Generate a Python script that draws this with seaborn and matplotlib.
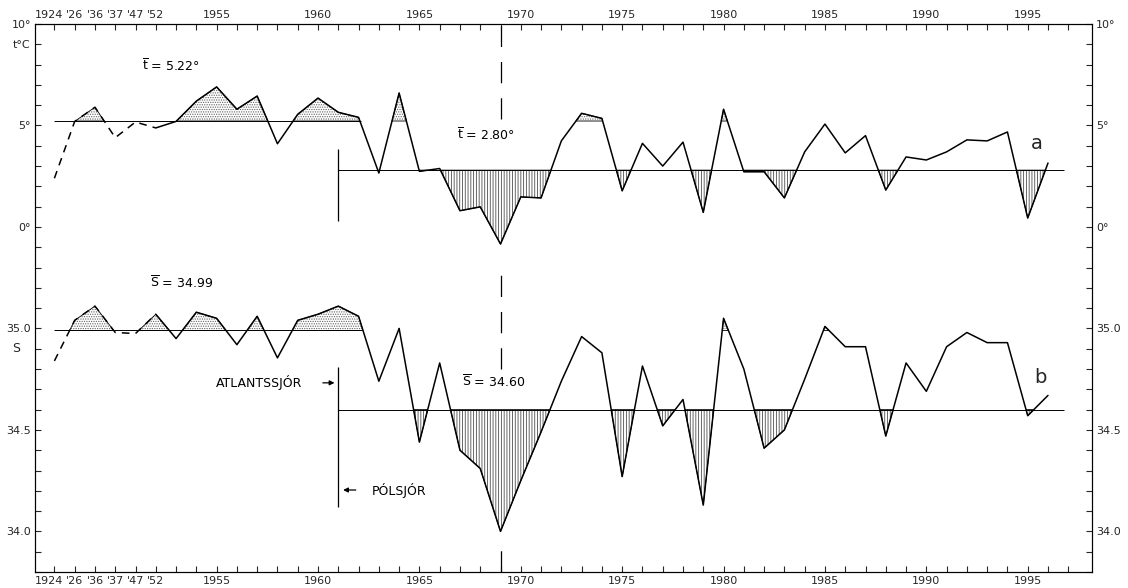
"""
Sea temperature (a) and salinity (b) anomalies, North Icelandic waters.
"""

import numpy as np
import matplotlib
matplotlib.use('Agg')
import matplotlib.pyplot as plt
import matplotlib.transforms as mtransforms
import seaborn as sns

# ---- data ----
years = ['1924', '1926', '1936', '1937', '1947', '1952'] + [str(y) for y in range(1953, 1997)]

temp = [2.4, 5.2, 5.9, 4.4, 5.17, 4.88, 5.2, 6.2, 6.9, 5.8,
        6.45, 4.1, 5.55, 6.35, 5.65, 5.4, 2.66, 6.6, 2.74, 2.88,
        0.8, 0.99, -0.84, 1.48, 1.43, 4.24, 5.6, 5.35, 1.78, 4.12,
        3.0, 4.18, 0.72, 5.8, 2.72, 2.72, 1.43, 3.7, 5.07, 3.65,
        4.5, 1.82, 3.45, 3.3, 3.7, 4.29, 4.24, 4.68, 0.44, 3.15]

sal = [34.84, 35.04, 35.11, 34.98, 34.975, 35.07, 34.95, 35.08, 35.05, 34.92,
       35.06, 34.855, 35.04, 35.07, 35.11, 35.06, 34.74, 35.0, 34.44, 34.83,
       34.40, 34.31, 34.00, 34.25, 34.49, 34.74, 34.96, 34.88, 34.27, 34.815,
       34.52, 34.65, 34.13, 35.05, 34.80, 34.41, 34.50, 34.75, 35.01, 34.91,
       34.91, 34.47, 34.83, 34.69, 34.91, 34.98, 34.93, 34.93, 34.57, 34.67]

temp_mean_early, temp_mean_late = 5.22, 2.80
sal_mean_early, sal_mean_late = 34.99, 34.60

xtick_text = {0: '1924', 1: "'26", 2: "'36", 3: "'37", 4: "'47", 5: "'52",
              8: '1955', 13: '1960', 18: '1965', 23: '1970', 28: '1975',
              33: '1980', 38: '1985', 43: '1990', 48: '1995'}
left_ytext = {10: '10°', 9: 't°C', 5: '5°', 0: '0°', -5: '35.0', -10: '34.5', -15: '34.0'}
right_ytext = {10: '10°', 5: '5°', 0: '0°', -5: '35.0', -10: '34.5', -15: '34.0'}


def to_panel(s):
    # salinity drawn on the same axis: 35.0 -> -5, 0.1 psu per unit
    return 10 * (np.asarray(s) - 35.0) - 5


sns.set_style('ticks')
plt.rcParams['font.family'] = ['DejaVu Sans']
plt.rcParams['hatch.linewidth'] = 0.6
plt.rcParams['mathtext.default'] = 'regular'

fig = plt.figure(figsize=(11.28, 5.88), dpi=100)
ax = fig.add_axes([35 / 1128, 16 / 588, 1057 / 1128, 548 / 588])

x = np.arange(len(years))
t = np.array(temp)
s = to_panel(sal)
t_early, t_late = temp_mean_early, temp_mean_late
s_early, s_late = to_panel(sal_mean_early), to_panel(sal_mean_late)
late = x >= 14


def shade(xx, yy, base, above, hatch, col):
    where = yy > base if above else yy < base
    ax.fill_between(xx, yy, base, where=where, interpolate=True,
                    facecolor='white', edgecolor=col, hatch=hatch, linewidth=0, zorder=1)
    ax.fill_between(xx, yy, base, where=where, interpolate=True,
                    facecolor='none', edgecolor='black', linewidth=0.6, zorder=2)


for yy, e, l in [(t, t_early, t_late), (s, s_early, s_late)]:
    shade(x, yy, e, True, '.......', '0.4')
    shade(x[late], yy[late], l, False, '||||||', '0.3')
    ax.hlines(e, 0, 15.1, color='black', lw=0.7, zorder=2)
    ax.hlines(l, 14, 49.8, color='black', lw=0.7, zorder=2)
    sns.lineplot(x=x[:6], y=yy[:6], ax=ax, color='black', lw=1.1,
                 linestyle=(0, (5, 4)), zorder=3)
    sns.lineplot(x=x[5:], y=yy[5:], ax=ax, color='black', lw=1.1, zorder=3)

# start of the second reference period
ax.vlines(14, 0.3, 3.85, color='black', lw=0.9)
ax.vlines(14, -13.8, -6.9, color='black', lw=0.9)

# dashed marker at 1969
for y0, y1 in [(5.3, 9.9), (-7.0, -1.7), (-17, -15.6)]:
    ax.vlines(22, y0, y1, color='black', lw=0.9, linestyles=(0, (17, 12)))

txt = dict(fontsize=9, color='black')
ax.text(4.3, 7.93, r'$\overline{t}$ = 5.22°', va='center', **txt)
ax.text(19.85, 4.53, r'$\overline{t}$ = 2.80°', va='center', **txt)
ax.text(4.7, -2.76, r'$\overline{S}$ = 34.99', va='center', **txt)
ax.text(20.1, -7.64, r'$\overline{S}$ = 34.60', va='center', **txt)
ax.text(48.45, 4.1, 'a', ha='center', va='center', fontsize=14)
ax.text(48.65, -7.44, 'b', ha='center', va='center', fontsize=14)

ax.text(12.2, -7.68, 'ATLANTSSJÓR', ha='right', va='center', **txt)
ax.annotate('', xy=(13.95, -7.68), xytext=(13.1, -7.68),
            arrowprops=dict(arrowstyle='-|>', color='black', lw=0.9, mutation_scale=7))
ax.text(15.66, -12.96, 'PÓLSJÓR', ha='left', va='center', **txt)
ax.annotate('', xy=(14.1, -12.96), xytext=(15.0, -12.96),
            arrowprops=dict(arrowstyle='-|>', color='black', lw=0.9, mutation_scale=7))
ax.text(-1.9, -6, 'S', ha='center', va='center', fontsize=9, clip_on=False)

ax.set_xlim(-0.957, 51.17)
ax.set_ylim(-17, 10)

xt = np.arange(0, 51)
ax.set_xticks(xt)
ax.set_xticklabels([xtick_text.get(i, '') for i in xt])
yt = np.arange(-17, 11)
ax.set_yticks(yt)
ax.set_yticklabels([left_ytext.get(i, '') for i in yt])
ax.tick_params(axis='both', direction='in', length=4, width=0.8, labelsize=8,
               top=True, labeltop=True, right=True, pad=3)

# the crowded early labels sit slightly left of their ticks
fig.canvas.draw()
shift = mtransforms.ScaledTranslation(-5 / 100, 0, fig.dpi_scale_trans)
for tk in ax.xaxis.get_major_ticks()[:1]:
    for lab in (tk.label1, tk.label2):
        lab.set_transform(lab.get_transform() + shift)

ax2 = ax.twinx()
ax2.set_ylim(ax.get_ylim())
ax2.set_yticks(yt)
ax2.set_yticklabels([right_ytext.get(i, '') for i in yt])
ax2.tick_params(axis='y', direction='in', length=4, width=0.8, labelsize=8, pad=3)

for a in (ax, ax2):
    for sp in a.spines.values():
        sp.set_linewidth(0.8)
        sp.set_color('black')

fig.savefig('out.png', dpi=100)
